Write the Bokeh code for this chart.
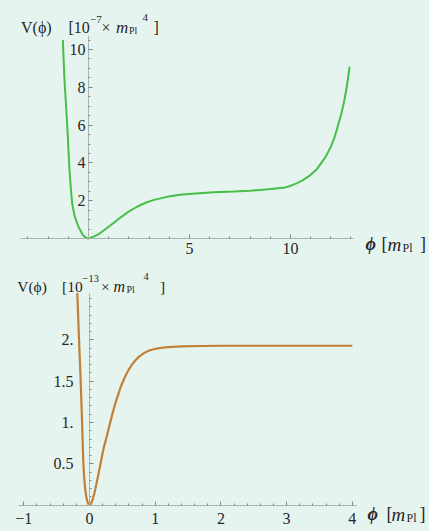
from bokeh.plotting import figure
from bokeh.layouts import column
from bokeh.models import Label, FixedTicker, CustomJSTickFormatter
from bokeh.embed import file_html
from bokeh.resources import INLINE

# ---------------- data: top panel (V in 1e-7 m_Pl^4) ----------------
top_phi = [-1.27, -1.19, -1.10, -1.04, -0.99, -0.94, -0.87, -0.81, -0.70, -0.61,
           -0.50, -0.40, -0.30, -0.20, -0.10, 0.00, 0.25, 0.53, 0.85, 1.19,
           1.60, 2.01, 2.40, 2.83, 3.20, 3.66, 4.10, 4.64, 5.50, 6.20,
           7.20, 8.00, 8.90, 9.65, 10.00, 10.30, 10.60, 10.96, 11.27, 11.50,
           11.76, 12.00, 12.19, 12.35, 12.52, 12.65, 12.76, 12.85, 12.93]
top_V = [10.50, 8.36, 6.80, 5.71, 4.60, 3.60, 2.60, 1.85, 1.25, 0.95,
         0.62, 0.42, 0.22, 0.10, 0.03, 0.00, 0.10, 0.25, 0.50, 0.78,
         1.12, 1.44, 1.68, 1.89, 2.03, 2.15, 2.25, 2.33, 2.40, 2.45,
         2.49, 2.53, 2.60, 2.68, 2.78, 2.92, 3.08, 3.33, 3.62, 3.95,
         4.35, 4.85, 5.36, 5.95, 6.60, 7.20, 7.83, 8.45, 9.10]
top_x_ticks = [5, 10]
top_x_labels = ["5", "10"]
top_x_minor = [-3, -2, -1, 1, 2, 3, 4, 6, 7, 8, 9, 11, 12, 13]
top_y_ticks = [2, 4, 6, 8, 10]
top_y_labels = ["2", "4", "6", "8", "10"]
top_y_minor = [0.5, 1, 1.5, 2.5, 3, 3.5, 4.5, 5, 5.5, 6.5, 7, 7.5, 8.5, 9, 9.5, 10.5]

# ---------------- data: bottom panel (V in 1e-13 m_Pl^4) ----------------
bot_phi = [-0.186, -0.172, -0.159, -0.147, -0.136, -0.125, -0.114, -0.104, -0.095, -0.083,
           -0.070, -0.055, -0.040, -0.025, -0.012, 0.000, 0.025, 0.050, 0.075, 0.100,
           0.125, 0.150, 0.175, 0.200, 0.225, 0.250, 0.275, 0.300, 0.325, 0.350,
           0.375, 0.400, 0.425, 0.450, 0.475, 0.500, 0.550, 0.600, 0.650, 0.700,
           0.750, 0.800, 0.850, 0.900, 1.000, 1.100, 1.200, 1.400, 1.700, 2.000,
           3.000, 4.000]
bot_V = [2.57, 2.28, 2.00, 1.76, 1.54, 1.29, 1.03, 0.77, 0.53, 0.36,
         0.23, 0.13, 0.065, 0.025, 0.006, 0.00, 0.02, 0.07, 0.145, 0.235,
         0.33, 0.43, 0.53, 0.63, 0.72, 0.79, 0.87, 0.95, 1.03, 1.11,
         1.18, 1.25, 1.31, 1.37, 1.43, 1.48, 1.57, 1.645, 1.705, 1.755,
         1.795, 1.825, 1.85, 1.87, 1.893, 1.906, 1.914, 1.922, 1.927, 1.93,
         1.93, 1.93]
bot_x_ticks = [-1, 0, 1, 2, 3, 4]
bot_x_labels = ["\u22121", "0", "1", "2", "3", "4"]
bot_x_minor = [-0.8, -0.6, -0.4, -0.2, 0.2, 0.4, 0.6, 0.8, 1.2, 1.4, 1.6, 1.8,
               2.2, 2.4, 2.6, 2.8, 3.2, 3.4, 3.6, 3.8]
bot_y_ticks = [0.5, 1.0, 1.5, 2.0]
bot_y_labels = ["0.5", "1.", "1.5", "2."]
bot_y_minor = [0.1, 0.2, 0.3, 0.4, 0.6, 0.7, 0.8, 0.9, 1.1, 1.2, 1.3, 1.4,
               1.6, 1.7, 1.8, 1.9, 2.1, 2.2, 2.3, 2.4, 2.5]

BG = "#e6f4f0"
AXIS = "#a9b2b0"
TICK = "#7d8684"
TXT = "#262626"
SERIF = "Liberation Serif"

LABEL_JS = """
const i = tv.findIndex(t => Math.abs(t - tick) < 1e-9);
return i >= 0 ? tl[i] : "";
"""


def make_fig(width, height, xr, yr):
    p = figure(width=width, height=height, x_range=xr, y_range=yr,
               output_backend="svg", toolbar_location=None,
               min_border_left=0, min_border_right=0,
               min_border_top=0, min_border_bottom=0)
    p.background_fill_color = BG
    p.border_fill_color = BG
    p.outline_line_color = None
    p.grid.visible = False
    return p


def style_axis(ax, ticks, labels, minor, bounds, size, standoff):
    ax.fixed_location = 0
    ax.bounds = bounds
    ax.ticker = FixedTicker(ticks=ticks, minor_ticks=minor)
    ax.formatter = CustomJSTickFormatter(args=dict(tv=ticks, tl=labels), code=LABEL_JS)
    ax.axis_line_color = AXIS
    ax.axis_line_width = 1
    ax.major_tick_line_color = TICK
    ax.minor_tick_line_color = TICK
    ax.major_tick_in = 4
    ax.major_tick_out = 0
    ax.minor_tick_in = 2
    ax.minor_tick_out = 0
    ax.major_label_text_font = SERIF
    ax.major_label_text_font_size = size
    ax.major_label_text_color = TXT
    ax.major_label_standoff = standoff


def put(p, ax, ay, top, X, Y, text, size, style="normal"):
    # anchor (ax, ay) is the figure's top-left corner, at page pixel (0, top)
    p.add_layout(Label(x=ax, y=ay, x_offset=X, y_offset=top - Y, text=text,
                       text_font=SERIF, text_font_size=size, text_font_style=style,
                       text_color=TXT, text_baseline="alphabetic", text_align="left"))


# ---------------- top figure (page y 0..262) ----------------
tx0, tx1, ty0, ty1 = -4.359, 16.889, -1.27, 12.593
p1 = make_fig(429, 262, (tx0, tx1), (ty0, ty1))
p1.line(top_phi, top_V, line_color="#45bf45", line_width=2.0)
style_axis(p1.xaxis[0], top_x_ticks, top_x_labels, top_x_minor, (-3.37, 13.12), "16px", 5)
style_axis(p1.yaxis[0], top_y_ticks, top_y_labels, top_y_minor, (0, 10.74), "16px", 3)

for X, Y, t, s, st in [(20.5, 26.5, "V(\u03d5)", "16px", "normal"),
                       (68, 26.5, "[10", "16px", "normal"),
                       (89.5, 18.5, "\u22127", "11px", "normal"),
                       (101, 26.5, "\u00d7", "16px", "normal"),
                       (115.5, 26.5, "m", "17px", "italic"),
                       (128.5, 29.5, "Pl", "10px", "normal"),
                       (142, 17, "4", "11px", "normal"),
                       (153, 26.5, "]", "16px", "normal")]:
    put(p1, tx0, ty1, 0, X, Y, t, s, st)
for X, Y, t, s, st in [(365, 243.5, "\u03d5", "18px", "bold italic"),
                       (381, 243.5, "[", "18px", "normal"),
                       (387, 243.5, "m", "19px", "italic"),
                       (402, 247, "Pl", "12px", "normal"),
                       (419.5, 243.5, "]", "18px", "normal")]:
    put(p1, tx0, ty1, 0, X, Y, t, s, st)

# ---------------- bottom figure (page y 262..531) ----------------
bx0, bx1, by0, by1 = -1.3546, 5.175, -0.321, 2.939
p2 = make_fig(429, 269, (bx0, bx1), (by0, by1))
p2.line(bot_phi, bot_V, line_color="#c27f36", line_width=2.2)
style_axis(p2.xaxis[0], bot_x_ticks, bot_x_labels, bot_x_minor, (-1.076, 4.07), "16px", 8)
style_axis(p2.yaxis[0], bot_y_ticks, bot_y_labels, bot_y_minor, (0, 2.566), "16px", 16)

for X, Y, t, s, st in [(16.7, 285.5, "V(\u03d5)", "15.5px", "normal"),
                       (61.5, 285.5, "[10", "15.5px", "normal"),
                       (82, 277.5, "\u221213", "10.5px", "normal"),
                       (100.5, 285.5, "\u00d7", "15.5px", "normal"),
                       (113, 285.5, "m", "16px", "italic"),
                       (126, 288.5, "Pl", "10px", "normal"),
                       (143, 276, "4", "10.5px", "normal"),
                       (159.5, 285.5, "]", "15.5px", "normal")]:
    put(p2, bx0, by1, 262, X, Y, t, s, st)
for X, Y, t, s, st in [(367, 513.5, "\u03d5", "18px", "bold italic"),
                       (386, 513.5, "[", "18px", "normal"),
                       (391, 513.5, "m", "19px", "italic"),
                       (406, 517, "Pl", "12px", "normal"),
                       (419, 513.5, "]", "18px", "normal")]:
    put(p2, bx0, by1, 262, X, Y, t, s, st)

layout = column(p1, p2)
html = file_html(layout, INLINE)
html = html.replace("<head>", "<head><style>html,body{background:%s;}</style>" % BG, 1)
open("out.html", "w").write(html)
